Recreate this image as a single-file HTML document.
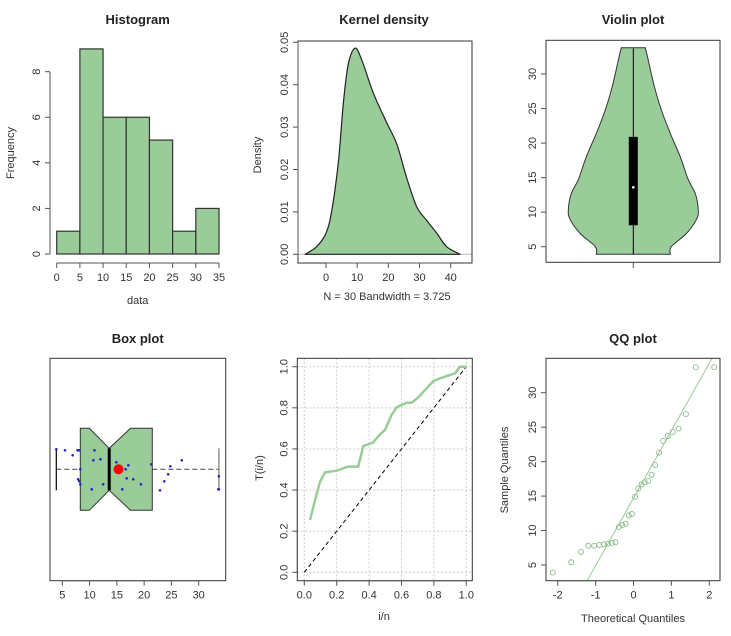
<!DOCTYPE html>
<html><head><meta charset="utf-8"><style>
html,body{margin:0;padding:0;background:#fff;overflow:hidden;width:731px;height:636px;}
svg{display:block;font-family:"Liberation Sans",sans-serif;}
</style></head><body>
<svg id="chart" width="731" height="636" viewBox="0 0 731 636" xmlns="http://www.w3.org/2000/svg"></svg>
<script>
// ---------- data ----------
const histBins = [0,5,10,15,20,25,30,35];
const histCounts = [1,9,6,6,5,1,2];
const densX = [-6.7,-3,0,1.8,4,5.6,7.2,9.3,11.4,15.2,19.5,22.7,25.9,29.1,32.3,35.5,38.7,43];
const densY = [0,0.0018,0.005,0.0101,0.022,0.036,0.045,0.0486,0.046,0.038,0.031,0.026,0.018,0.0112,0.008,0.005,0.0018,0];
const violinV = [3.9,5,6.9,8.9,10.3,12.7,14.7,18,21.4,24.8,28.2,32,33.8];
const violinW = [37,38,53,63,65,62,55,47,37,28,21,15,12];
const sampleData = [3.9,5.4,6.9,7.8,7.8,7.9,8.0,8.1,8.2,8.3,10.5,10.8,11.0,12.2,12.4,14.9,16.1,16.7,17.0,17.2,18.1,19.5,21.3,23.0,23.7,24.3,24.8,26.9,33.7,33.7];
const jitterX = [3.9,5.5,6.9,7.8,8.1,8.3,7.9,8.1,8.3,10.9,10.7,12.0,10.4,12.5,14.9,16.6,17.1,16.8,18.0,19.4,16.0,21.3,22.9,23.7,24.4,24.8,26.9,33.7,33.7,33.6];
const jitterY = [-20,-19,-14,-19,-19,0,10,12,15,-19,-9,-10,20,15,-7,0,-4,9,10,15,20,-5,21,12,5,-3,-9,7,20,20];
const ecdfX = [0.035,0.066,0.097,0.128,0.2,0.27,0.333,0.364,0.426,0.463,0.498,0.539,0.57,0.6,0.632,0.663,0.704,0.755,0.796,0.837,0.879,0.93,0.961,1];
const ecdfY = [0.254,0.35,0.44,0.486,0.494,0.514,0.514,0.614,0.632,0.668,0.692,0.765,0.802,0.814,0.825,0.825,0.851,0.895,0.93,0.943,0.955,0.968,1.0,1.0];
const boxStats = [3.9,8.3,13.6,21.5,33.7];
const notchLo = [9.95];
const notchHi = [17.5];
const meanVal = [15.3];

// ---------- helpers ----------
const svg = document.getElementById('chart');
const NS = 'http://www.w3.org/2000/svg';
const GREEN = '#99cc99';
function mk(tag, attrs, parent){ const e=document.createElementNS(NS,tag); for(const k in attrs) e.setAttribute(k,attrs[k]); (parent||svg).appendChild(e); return e; }
function lin(d0,d1,p0,p1){ return v => p0 + (v-d0)*(p1-p0)/(d1-d0); }
function txt(x,y,s,opts,parent){
  const t = mk('text',{x:x,y:y,'text-anchor':'middle','font-size':(opts&&opts.size)||11,fill:(opts&&opts.fill)||'#333','font-weight':(opts&&opts.bold)?'bold':'normal'},parent);
  if(opts&&opts.rot) t.setAttribute('transform','rotate(-90 '+x+' '+y+')');
  t.textContent = s; return t;
}
function smoothPath(pts){
  let d = 'M'+pts[0][0].toFixed(1)+','+pts[0][1].toFixed(1);
  for(let i=0;i<pts.length-1;i++){
    const p0=pts[Math.max(i-1,0)],p1=pts[i],p2=pts[i+1],p3=pts[Math.min(i+2,pts.length-1)];
    const c1=[p1[0]+(p2[0]-p0[0])/6,p1[1]+(p2[1]-p0[1])/6];
    const c2=[p2[0]-(p3[0]-p1[0])/6,p2[1]-(p3[1]-p1[1])/6];
    d+=' C'+c1[0].toFixed(1)+','+c1[1].toFixed(1)+' '+c2[0].toFixed(1)+','+c2[1].toFixed(1)+' '+p2[0].toFixed(1)+','+p2[1].toFixed(1);
  }
  return d;
}
function xAxis(g, sx, ticks, y, from, to){
  const l = mk('line',{x1:sx(from),x2:sx(to),y1:y,y2:y,stroke:'#555'},g);
  
  
  ticks.forEach(v=>{
    const t = mk('line',{x1:sx(v),x2:sx(v),y1:y,y2:y+5,stroke:'#555'},g);
    
    
    const lb = txt(sx(v), y+18, String(v), {}, g);
    
    
  });
}
function yAxis(g, sy, ticks, x, from, to){
  const l = mk('line',{x1:x,x2:x,y1:sy(from),y2:sy(to),stroke:'#555'},g);
  
  
  ticks.forEach(v=>{
    const t = mk('line',{x1:x-5,x2:x,y1:sy(v),y2:sy(v),stroke:'#555'},g);
    
    
    const lb = txt(x-10, sy(v), String(v), {rot:true}, g);
    
    
  });
}
function frame(g,x0,y0,x1,y1){
  const r = mk('rect',{x:x0,y:y0,width:x1-x0,height:y1-y0,fill:'none',stroke:'#333'},g);
  
  
}
function panel(name){ const g=mk('g',{});   return g; }
function title(g,x,y,s){ const t=txt(x,y,s,{bold:true,size:13,fill:'#222'},g);   }

// ---------- Histogram ----------
(function(){
  const g = panel('histogram-panel');
  const sx = lin(0,35,56.7,219), sy = lin(0,8,254,71.7);
  title(g,137.7,24,'Histogram');
  histCounts.forEach((c,i)=>{
    const b = mk('rect',{x:sx(histBins[i]),y:sy(c),width:sx(histBins[i+1])-sx(histBins[i]),height:sy(0)-sy(c),fill:GREEN,stroke:'#333','stroke-width':1.2},g);
    
    
  });
  xAxis(g,sx,[0,5,10,15,20,25,30,35],263,0,35);
  yAxis(g,sy,[0,2,4,6,8],50,0,8);
  const a=txt(137.7,304,'data',{},g);  
  const b=txt(14,153,'Frequency',{rot:true},g);  
})();

// ---------- Kernel density ----------
(function(){
  const g = panel('kernel-density-panel');
  const sx = lin(0,40,326,450.7), sy = lin(0,0.05,254.3,42.3);
  title(g,384,24,'Kernel density');
  const z = mk('line',{x1:298,x2:472,y1:sy(0),y2:sy(0),stroke:'#bbb'},g);
  
  
  const pts = densX.map((x,i)=>[sx(x),sy(densY[i])]);
  const d = smoothPath(pts)+' Z';
  const p = mk('path',{d:d,fill:GREEN,stroke:'#222','stroke-width':1.2,'stroke-linejoin':'round'},g);
  
  
  frame(g,298,41,472,263);
  xAxis(g,sx,[0,10,20,30,40],263,0,40);
  yAxis(g,sy,['0.00','0.01','0.02','0.03','0.04','0.05'],298,0,0.05);
  const a=txt(387,300,'N = 30   Bandwidth = 3.725',{},g);  
  const b=txt(261,155,'Density',{rot:true},g);  
})();

// ---------- Violin ----------
(function(){
  const g = panel('violin-panel');
  const sy = lin(5,30,246.7,74), cx = 633.3;
  title(g,633,24,'Violin plot');
  const right = violinV.map((v,i)=>[cx+violinW[i],sy(v)]);
  const left = violinV.map((v,i)=>[cx-violinW[i],sy(v)]).reverse();
  const d = smoothPath(right) + ' L' + smoothPath(left).slice(1) + ' Z';
  const p = mk('path',{d:d,fill:GREEN,stroke:'#333','stroke-width':1},g);
  
  
  const w = mk('line',{x1:cx,x2:cx,y1:sy(boxStats[0]),y2:sy(boxStats[4]),stroke:'#000'},g);
  
  
  const r = mk('rect',{x:cx-4.5,y:sy(20.9),width:9,height:sy(8.1)-sy(20.9),fill:'#000'},g);
  
  
  const m = mk('circle',{cx:cx,cy:sy(boxStats[2]),r:1.3,fill:'#fff'},g);
  
  
  frame(g,546,40.3,720,262.3);
  yAxis(g,sy,[5,10,15,20,25,30],546,5,30);
  const t = mk('line',{x1:cx,x2:cx,y1:262.3,y2:268,stroke:'#555'},g);
  
  
})();

// ---------- Box plot ----------
(function(){
  const g = panel('box-plot-panel');
  const sx = lin(5,30,62.3,198.7), cy = 469.3, H=41, N=21;
  title(g,137.7,343,'Box plot');
  const [mn,q1,md,q3,mx] = boxStats;
  const d1 = mk('line',{x1:sx(mn),x2:sx(q1),y1:cy,y2:cy,stroke:'#555','stroke-dasharray':'5,3','stroke-width':1.2},g);
  
  
  const d2 = mk('line',{x1:sx(q3),x2:sx(mx),y1:cy,y2:cy,stroke:'#555','stroke-dasharray':'5,3','stroke-width':1.2},g);
  
  
  const c1 = mk('line',{x1:sx(mn),x2:sx(mn),y1:cy-N,y2:cy+N,stroke:'#000','stroke-width':1.2},g);
  
  
  const c2 = mk('line',{x1:sx(mx),x2:sx(mx),y1:cy-N,y2:cy+N,stroke:'#777','stroke-width':1.2},g);
  
  
  const pts = [[q1,cy-H],[notchLo[0],cy-H],[md,cy-N],[notchHi[0],cy-H],[q3,cy-H],[q3,cy+H],[notchHi[0],cy+H],[md,cy+N],[notchLo[0],cy+H],[q1,cy+H]];
  const b = mk('polygon',{points:pts.map(p=>sx(p[0]).toFixed(1)+','+p[1]).join(' '),fill:GREEN,stroke:'#333','stroke-width':1},g);
  
  
  const m = mk('line',{x1:sx(md),x2:sx(md),y1:cy-N,y2:cy+N,stroke:'#000','stroke-width':3},g);
  
  
  jitterX.forEach((v,i)=>{
    const p = mk('circle',{cx:sx(v),cy:cy+jitterY[i],r:1.3,fill:'#22c'},g);
    
    
  });
  const mean = mk('circle',{cx:sx(meanVal[0]),cy:cy,r:5,fill:'#f00'},g);
  
  
  frame(g,50,358.3,225.7,580.7);
  xAxis(g,sx,[5,10,15,20,25,30],580.7,5,30);
})();

// ---------- ECDF-like plot ----------
(function(){
  const g = panel('tin-plot-panel');
  const sx = lin(0,1,304.3,466.3), sy = lin(0,1,572.3,366.7);
  const ticks=[0,0.2,0.4,0.6,0.8,1];
  ticks.forEach(v=>{
    const a = mk('line',{x1:sx(v),x2:sx(v),y1:358.3,y2:580.7,stroke:'#ccc','stroke-dasharray':'2,2'},g);
    
    
    const b = mk('line',{x1:297.3,x2:472.3,y1:sy(v),y2:sy(v),stroke:'#ccc','stroke-dasharray':'2,2'},g);
    
    
  });
  const ref = mk('line',{x1:sx(0),y1:sy(0),x2:sx(1),y2:sy(1),stroke:'#000','stroke-dasharray':'4,3'},g);
  
  
  const l = mk('polyline',{points:ecdfX.map((x,i)=>sx(x).toFixed(1)+','+sy(ecdfY[i]).toFixed(1)).join(' '),fill:'none',stroke:'#99cc99','stroke-width':2.5},g);
  
  
  frame(g,297.3,358.3,472.3,580.7);
  xAxis(g,sx,['0.0','0.2','0.4','0.6','0.8','1.0'],580.7,0,1);
  yAxis(g,sy,['0.0','0.2','0.4','0.6','0.8','1.0'],297.3,0,1);
  const a=txt(384,620,'i/n',{},g);  
  const b=txt(263,468,'T(i/n)',{rot:true},g);  
})();

// ---------- QQ plot ----------
(function(){
  const g = panel('qq-plot-panel');
  const sx = lin(-2,2,557.7,709.3), sy = lin(5,30,565,392.7);
  title(g,633,343,'QQ plot');
  function qnorm(p){
    const a=[-39.6968302866538,220.946098424521,-275.928510446969,138.357751867269,-30.6647980661472,2.50662827745924];
    const b=[-54.4760987982241,161.585836858041,-155.698979859887,66.8013118877197,-13.2806815528857];
    const c=[-0.00778489400243029,-0.322396458041136,-2.40075827716184,-2.54973253934373,4.37466414146497,2.93816398269878];
    const d=[0.00778469570904146,0.32246712907004,2.445134137143,3.75440866190742];
    if(p<0.02425){const q=Math.sqrt(-2*Math.log(p));return (((((c[0]*q+c[1])*q+c[2])*q+c[3])*q+c[4])*q+c[5])/((((d[0]*q+d[1])*q+d[2])*q+d[3])*q+1);}
    if(p>1-0.02425){return -qnorm(1-p);}
    const q=p-0.5,r=q*q;return (((((a[0]*r+a[1])*r+a[2])*r+a[3])*r+a[4])*r+a[5])*q/(((((b[0]*r+b[1])*r+b[2])*r+b[3])*r+b[4])*r+1);
  }
  const n = sampleData.length;
  const th = sampleData.map((_,i)=>qnorm((i+0.5)/n));
  const sorted = sampleData.slice().sort((a,b)=>a-b);
  const q1 = sorted[7], q3 = sorted[22];
  const slope = (q3-q1)/(2*0.6745), inter = q1 + slope*0.6745;
  const clip = mk('clipPath',{id:'qqclip'},g);
  mk('rect',{x:546,y:358.3,width:174,height:222.4},clip);
  const ln = mk('line',{x1:sx(-3),y1:sy(inter-3*slope),x2:sx(3),y2:sy(inter+3*slope),stroke:'#99cc99','clip-path':'url(#qqclip)'},g);
  
  
  sorted.forEach((v,i)=>{
    const p = mk('circle',{cx:sx(th[i]),cy:sy(v),r:2.5,fill:'none',stroke:'#88bb88','stroke-width':0.9},g);
    
    
  });
  frame(g,546,358.3,720,580.7);
  xAxis(g,sx,[-2,-1,0,1,2],580.7,-2,2);
  yAxis(g,sy,[5,10,15,20,25,30],546,5,30);
  const a=txt(633,622,'Theoretical Quantiles',{},g);  
  const b=txt(508,470,'Sample Quantiles',{rot:true},g);  
})();
</script>
</body></html>
